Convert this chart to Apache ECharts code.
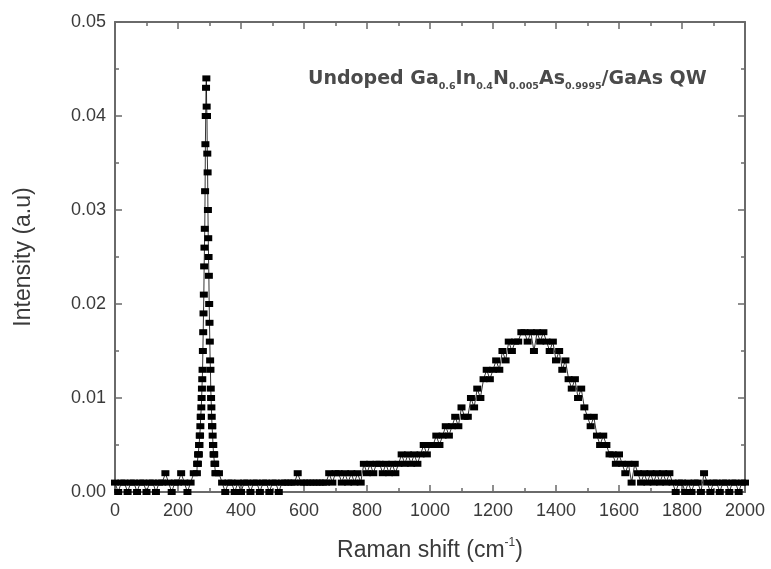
<!DOCTYPE html>
<html>
<head>
<meta charset="utf-8">
<script src="https://cdn.jsdelivr.net/npm/echarts@6/dist/echarts.min.js"></script>
<style>
html,body{margin:0;padding:0;background:#fff;}
#chart{width:771px;height:569px;}
</style>
</head>
<body>
<div id="chart"></div>
<script>
// Coarse scan (Raman shift, cm^-1) and intensity (a.u.)
const shiftCoarse = [
  0,10,20,30,40,50,60,70,80,90,100,110,120,130,140,150,160,170,180,190,200,210,220,230,240,250,
  330,340,350,360,370,380,390,400,410,420,430,440,450,460,470,480,490,500,510,520,530,540,
  550,560,570,580,590,600,610,620,630,640,650,660,670,
  680,690,700,710,720,730,740,750,760,770,780,
  790,800,810,820,830,840,850,860,870,880,
  890,900,910,920,930,940,950,960,
  970,980,990,1000,1010,
  1020,1030,1040,1050,1060,1070,1080,1090,1100,1110,1120,1130,1140,1150,1160,
  1170,1180,1190,1200,1210,1220,1230,1240,1250,1260,1270,1280,1290,
  1300,1310,1320,1330,1340,1350,1360,1370,1380,1390,1400,
  1410,1420,1430,1440,1450,1460,1470,1480,1490,1500,1510,1520,1530,
  1540,1550,1560,1570,1580,1590,1600,1610,1620,1630,1640,1650,
  1660,1670,1680,1690,1700,1710,1720,1730,1740,1750,1760,1770,
  1780,1790,1800,1810,1820,1830,1840,1850,1860,1870,1880,1890,1900,1910,1920,1930,1940,1950,1960,1970,1980,1990,2000
];
const intensityCoarse = [
  0.001,0,0.001,0.001,0,0.001,0.001,0,0.001,0.001,0,0.001,0.001,0,0.001,0.001,0.002,0.001,0,0.001,0.001,0.002,0.001,0,0.001,0.002,
  0.002,0.001,0,0.001,0.001,0,0.001,0,0.001,0.001,0,0.001,0.001,0,0.001,0.001,0,0.001,0.001,0,0.001,0.001,
  0.001,0.001,0.001,0.002,0.001,0.001,0.001,0.001,0.001,0.001,0.001,0.001,0.001,
  0.002,0.001,0.002,0.002,0.001,0.002,0.001,0.002,0.001,0.002,0.001,
  0.003,0.002,0.003,0.002,0.003,0.003,0.002,0.003,0.002,0.003,
  0.002,0.003,0.004,0.003,0.004,0.003,0.004,0.003,
  0.004,0.005,0.004,0.005,0.005,
  0.006,0.005,0.006,0.007,0.006,0.007,0.008,0.007,0.009,0.008,0.008,0.010,0.009,0.011,0.010,
  0.012,0.013,0.012,0.013,0.014,0.013,0.015,0.014,0.016,0.015,0.016,0.016,0.017,
  0.017,0.016,0.017,0.015,0.017,0.016,0.017,0.016,0.015,0.016,0.014,
  0.015,0.013,0.014,0.012,0.011,0.012,0.010,0.011,0.009,0.008,0.007,0.008,0.006,
  0.005,0.006,0.005,0.004,0.004,0.003,0.004,0.003,0.002,0.003,0.001,0.003,
  0.002,0.001,0.002,0.001,0.002,0.001,0.002,0.001,0.002,0.001,0.002,0.001,
  0,0.001,0.001,0,0.001,0,0.001,0.001,0,0.002,0.001,0,0.001,0.001,0,0.001,0.001,0,0.001,0.001,0,0.001,0.001
];
// Fine scan across the sharp peak
const shiftPeak = [
  260,261,262,263,264,265,266,267,268,269,270,271,272,273,274,275,276,277,278,279,
  280,281,282,283,284,285,286,287,288,289,290,291,292,293,294,295,296,297,298,299,
  300,301,302,303,304,305,306,307,308,309,310,311,312,313,314,315,316,317,318,319,320
];
const intensityPeak = [
  0.002,0.003,0.003,0.003,0.004,0.004,0.004,0.005,0.005,0.006,0.006,0.007,0.008,0.008,0.009,0.010,0.011,0.012,0.013,0.015,
  0.017,0.019,0.021,0.024,0.026,0.028,0.032,0.037,0.040,0.043,0.044,0.041,0.040,0.036,0.034,0.030,0.027,0.025,0.023,0.020,
  0.018,0.016,0.014,0.013,0.011,0.010,0.009,0.008,0.007,0.007,0.006,0.005,0.005,0.004,0.004,0.004,0.003,0.003,0.003,0.002,0.002
];
const xTickValues = [0,200,400,600,800,1000,1200,1400,1600,1800,2000];
const yTickValues = [0.00,0.01,0.02,0.03,0.04,0.05];

const points = [];
for (let i = 0; i < shiftCoarse.length; i++) points.push([shiftCoarse[i], intensityCoarse[i]]);
for (let i = 0; i < shiftPeak.length; i++) points.push([shiftPeak[i], intensityPeak[i]]);
points.sort((a, b) => a[0] - b[0]);

const axisColor = '#6a6a6a';
const textColor = '#3a3a3a';
const tickFont = '"Liberation Sans", Arial, sans-serif';

function xAx(pos, showLabel, withName) {
  return {
    type: 'value', position: pos, min: xTickValues[0], max: xTickValues[xTickValues.length - 1], interval: 200,
    axisLine: { show: true, onZero: false, lineStyle: { color: axisColor, width: 2 } },
    axisTick: { show: true, inside: true, length: 7, lineStyle: { color: axisColor, width: 1.5 } },
    minorTick: { show: true, splitNumber: 2, length: 4, lineStyle: { color: axisColor, width: 1.5 } },
    splitLine: { show: false },
    axisLabel: { show: showLabel, color: textColor, fontSize: 18, fontFamily: tickFont, margin: 10,
      formatter: v => String(v) },
    name: withName ? '{a|Raman shift (cm}{s|-1}{a|)}' : '',
    nameLocation: 'middle', nameGap: 45,
    nameTextStyle: {
      rich: {
        a: { fontSize: 23, fontFamily: tickFont, color: textColor, lineHeight: 28 },
        s: { fontSize: 12, fontFamily: tickFont, color: textColor, lineHeight: 12, verticalAlign: 'top' }
      }
    }
  };
}
function yAx(pos, showLabel, withName) {
  return {
    type: 'value', position: pos, min: yTickValues[0], max: yTickValues[yTickValues.length - 1], interval: 0.01,
    axisLine: { show: true, onZero: false, lineStyle: { color: axisColor, width: 2 } },
    axisTick: { show: true, inside: true, length: 7, lineStyle: { color: axisColor, width: 1.5 } },
    minorTick: { show: true, splitNumber: 2, length: 4, lineStyle: { color: axisColor, width: 1.5 } },
    splitLine: { show: false },
    axisLabel: { show: showLabel, color: textColor, fontSize: 18, fontFamily: tickFont, margin: 9,
      formatter: v => v.toFixed(2) },
    name: withName ? 'Intensity (a.u)' : '',
    nameLocation: 'middle', nameGap: 80,
    nameTextStyle: { fontSize: 23, fontFamily: tickFont, color: textColor, padding: [0, 0, 0, 0] }
  };
}

const chart = echarts.init(document.getElementById('chart'), null, { renderer: 'canvas' });
chart.setOption({
  backgroundColor: '#fff',
  animation: false,
  grid: { left: 115, right: 26, top: 22, bottom: 77 },
  xAxis: [xAx('bottom', true, true), xAx('top', false, false)],
  yAxis: [yAx('left', true, true), yAx('right', false, false)],
  graphic: [{
    type: 'text', left: 308, top: 70,
    style: {
      text: '{m|Undoped Ga}{s|0.6}{m|In}{s|0.4}{m|N}{s|0.005}{m|As}{s|0.9995}{m|/GaAs QW}',
      rich: {
        m: { fontSize: 19, fontWeight: 'bold', fontFamily: '"DejaVu Sans", Verdana, sans-serif', fill: '#4a4a4a', lineHeight: 25 },
        s: { fontSize: 9.5, fontWeight: 'bold', fontFamily: '"DejaVu Sans", Verdana, sans-serif', fill: '#4a4a4a', lineHeight: 10, verticalAlign: 'bottom' }
      }
    }
  }],
  series: [{
    type: 'line',
    data: points,
    xAxisIndex: 0, yAxisIndex: 0,
    symbol: 'rect', symbolSize: [8, 6], showSymbol: true, showAllSymbol: true,
    itemStyle: { color: '#000' },
    lineStyle: { color: '#000', width: 0.8 },
    clip: true
  }]
});
</script>
</body>
</html>
